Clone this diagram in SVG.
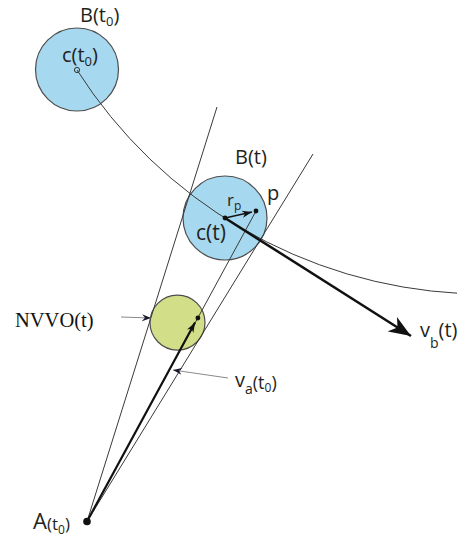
<svg xmlns="http://www.w3.org/2000/svg" width="457" height="538" viewBox="0 0 457 538">
<style>
.lbl{font-family:"Open Sans","Liberation Sans",sans-serif;fill:#231f20}
.serif{font-family:"Liberation Serif","Times New Roman",serif;fill:#111}
.thin{stroke:#3a3a3a;stroke-width:1;fill:none}
.ptr{stroke:#8a8a8a;stroke-width:1;fill:none}
.blue{fill:#a6d8ef;stroke:#4d4d4d;stroke-width:1.2}
.green{fill:#d3df88;stroke:#4d4d4d;stroke-width:1.2}
.dot{fill:#111}
</style>
<defs>
<marker id="bigArrow" markerUnits="userSpaceOnUse" viewBox="-22 -9 23 18" refX="0" refY="0" markerWidth="23" markerHeight="18" orient="auto">
<path d="M0,0 L-22,-8.5 L-16,0 L-22,8.5 Z" fill="#111"/>
</marker>
<marker id="smallArrow" markerUnits="userSpaceOnUse" viewBox="-10 -4 11 8" refX="0" refY="0" markerWidth="11" markerHeight="8" orient="auto">
<path d="M0,0 L-10,-3.6 L-7,0 L-10,3.6 Z" fill="#111"/>
</marker>
<marker id="ptrArrow" markerUnits="userSpaceOnUse" viewBox="-9 -4 10 8" refX="0" refY="0" markerWidth="10" markerHeight="8" orient="auto">
<path d="M0,0 L-9,-3.5 L-6,0 L-9,3.5 Z" fill="#1a1a2e"/>
</marker>
</defs>

<g id="B_t0">
<circle class="blue" cx="77" cy="69.5" r="41.5"/>
<circle cx="77" cy="70" r="2.6" fill="#a6d8ef" stroke="#333" stroke-width="1"/>
<text class="lbl" x="80" y="22" font-size="20">B(t<tspan font-size="13" dy="4">0</tspan><tspan dy="-4">)</tspan></text>
<text class="lbl" x="62" y="62" font-size="20">c(t<tspan font-size="13" dy="4">0</tspan><tspan dy="-4">)</tspan></text>
</g>

<g id="B_t">
<circle class="blue" cx="225" cy="218" r="42"/>
<text class="lbl" x="235" y="164" font-size="20">B(t)</text>
</g>

<g id="NVVO">
<circle class="green" cx="177.5" cy="322.6" r="27.5"/>
<text class="serif" x="15" y="327" font-size="20.5">NVVO(t)</text>
</g>

<g id="connectors">
<path class="thin" d="M77,70 A484,484 0 0,0 460,293.4"/>
<line class="thin" x1="87" y1="521.5" x2="217" y2="107"/>
<line class="thin" x1="87" y1="521.5" x2="313" y2="154"/>
<line class="thin" x1="87" y1="521.5" x2="256" y2="211"/>
<line x1="87" y1="521.5" x2="195" y2="322.5" stroke="#111" stroke-width="2.2" marker-end="url(#smallArrow)"/>
<line x1="225" y1="218" x2="411" y2="336" stroke="#111" stroke-width="2.5" marker-end="url(#bigArrow)"/>
<line x1="225" y1="218" x2="252" y2="212" stroke="#111" stroke-width="1.3" marker-end="url(#smallArrow)"/>
<line class="ptr" x1="121" y1="317" x2="151" y2="318" marker-end="url(#ptrArrow)"/>
<line class="ptr" x1="228" y1="378" x2="173" y2="370" marker-end="url(#ptrArrow)"/>
</g>

<g id="points">
<circle class="dot" cx="225" cy="218" r="2.4"/>
<circle class="dot" cx="256" cy="211" r="2.4"/>
<circle class="dot" cx="197.9" cy="318" r="2.4"/>
<circle class="dot" cx="87" cy="521.5" r="3.8"/>
</g>

<g id="labels">
<text class="lbl" x="267" y="200" font-size="20">p</text>
<text class="lbl" x="227" y="206" font-size="17">r<tspan font-size="12" dy="4">p</tspan></text>
<text class="lbl" x="196" y="240" font-size="21">c(t)</text>
<text class="lbl" x="420" y="337" font-size="20">v<tspan font-size="14" dy="11">b</tspan><tspan dy="-11">(t)</tspan></text>
<text class="lbl" x="235" y="387" font-size="20">v<tspan font-size="14" dy="7">a</tspan><tspan font-size="18" dy="-5">(t</tspan><tspan font-size="12" dy="3">0</tspan><tspan font-size="18" dy="-3">)</tspan></text>
<text class="lbl" x="33" y="529" font-size="22">A<tspan font-size="17" dy="1">(t</tspan><tspan font-size="12" dy="4">0</tspan><tspan font-size="17" dy="-4">)</tspan></text>
</g>
</svg>
